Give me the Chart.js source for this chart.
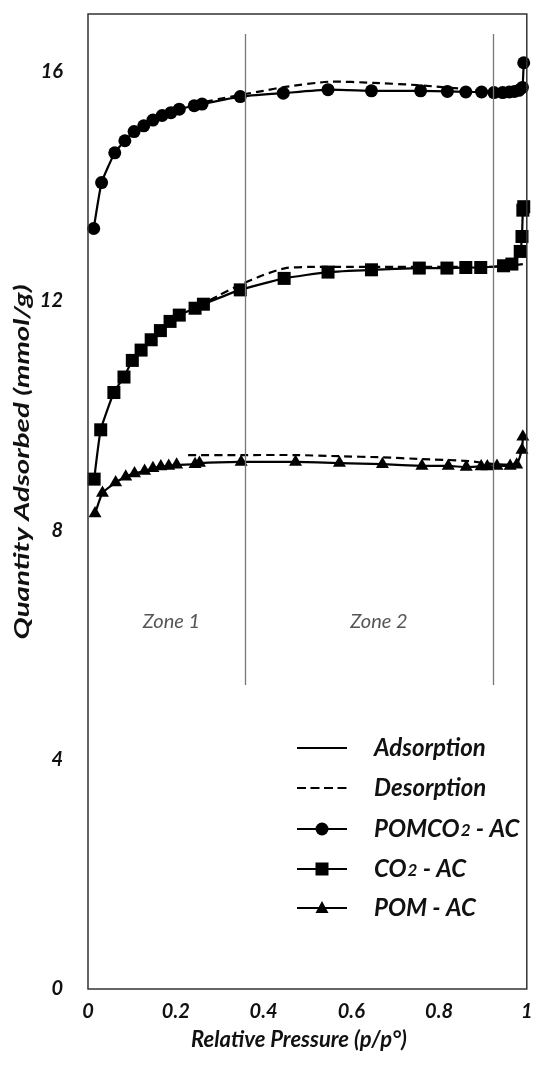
<!DOCTYPE html>
<html>
<head>
<meta charset="utf-8">
<script src="https://cdn.jsdelivr.net/npm/chart.js@4.4.1/dist/chart.umd.min.js"></script>
<style>
  html, body { margin: 0; padding: 0; background: #fff; }
  #wrap { width: 536px; height: 1066px; }
</style>
</head>
<body>
<div id="wrap"><canvas id="isotherm"></canvas></div>
<script>
// isotherm data: relative pressure (p/p°) and quantity adsorbed (mmol/g)
const pomco2AdsP = [0.013, 0.031, 0.061, 0.084, 0.105, 0.127, 0.148, 0.169, 0.189, 0.208, 0.242, 0.260, 0.347, 0.445, 0.547, 0.646, 0.758, 0.819, 0.861, 0.897, 0.925, 0.945, 0.960, 0.972, 0.982, 0.990, 0.993];
const pomco2AdsQ = [13.26, 14.06, 14.58, 14.79, 14.95, 15.05, 15.15, 15.23, 15.28, 15.34, 15.40, 15.43, 15.56, 15.62, 15.68, 15.66, 15.66, 15.65, 15.64, 15.64, 15.63, 15.63, 15.64, 15.65, 15.67, 15.72, 16.15];
const pomco2DesP = [0.990, 0.920, 0.880, 0.750, 0.650, 0.550, 0.450, 0.400, 0.347, 0.300, 0.255];
const pomco2DesQ = [15.74, 15.66, 15.68, 15.76, 15.80, 15.82, 15.73, 15.66, 15.59, 15.52, 15.45];

const co2AdsP = [0.014, 0.029, 0.059, 0.082, 0.101, 0.121, 0.144, 0.165, 0.187, 0.208, 0.244, 0.263, 0.347, 0.447, 0.547, 0.646, 0.755, 0.818, 0.861, 0.895, 0.947, 0.966, 0.985, 0.989, 0.991, 0.993];
const co2AdsQ = [8.89, 9.75, 10.40, 10.67, 10.96, 11.14, 11.32, 11.48, 11.64, 11.75, 11.87, 11.94, 12.19, 12.39, 12.50, 12.54, 12.57, 12.57, 12.58, 12.58, 12.61, 12.64, 12.86, 13.12, 13.58, 13.64];
const co2DesP = [0.991, 0.950, 0.900, 0.800, 0.700, 0.600, 0.500, 0.450, 0.400, 0.347, 0.300, 0.263];
const co2DesQ = [12.64, 12.60, 12.59, 12.59, 12.59, 12.59, 12.59, 12.57, 12.45, 12.28, 12.10, 11.95];

const pomAdsP = [0.016, 0.033, 0.063, 0.086, 0.106, 0.129, 0.148, 0.166, 0.184, 0.202, 0.244, 0.254, 0.349, 0.473, 0.573, 0.671, 0.761, 0.821, 0.862, 0.896, 0.910, 0.932, 0.962, 0.977, 0.989, 0.991];
const pomAdsQ = [8.29, 8.65, 8.83, 8.93, 8.99, 9.03, 9.08, 9.11, 9.12, 9.14, 9.15, 9.17, 9.19, 9.19, 9.17, 9.15, 9.12, 9.12, 9.10, 9.11, 9.11, 9.12, 9.12, 9.14, 9.40, 9.63];
const pomDesP = [0.990, 0.975, 0.930, 0.860, 0.760, 0.670, 0.570, 0.470, 0.350, 0.225];
const pomDesQ = [9.45, 9.16, 9.15, 9.21, 9.24, 9.27, 9.29, 9.31, 9.31, 9.31];

const seriesNames = ["POMCO2 - AC", "CO2 - AC", "POM - AC"];
const seriesMarkers = ["circle", "rect", "triangle"];
const lineNames = ["Adsorption", "Desorption"];

const yTicks = [0, 4, 8, 12, 16];
const xTicks = [0, 0.2, 0.4, 0.6, 0.8, 1];

// zone boundaries and labels
const zoneBounds = [0.358, 0.923];
const zoneNames = ["Zone 1", "Zone 2"];
const zoneLabelP = [0.19, 0.663];

const FONT = "Lato, 'Open Sans', sans-serif";
const INK = "#111";

function points(ps, qs) {
    return ps.map((p, i) => ({ x: p, y: qs[i] }));
}

function adsSet(label, ps, qs, marker, radius) {
    return {
        label: label,
        data: points(ps, qs),
        showLine: true,
        borderColor: "#000",
        backgroundColor: "#000",
        borderWidth: 2.2,
        pointStyle: marker,
        pointRadius: radius,
        pointBorderWidth: 0,
        tension: 0.15,
        clip: false
    };
}

function desSet(label, ps, qs) {
    return {
        label: label,
        data: points(ps, qs),
        showLine: true,
        borderColor: "#000",
        borderWidth: 2.2,
        borderDash: [8, 5],
        pointRadius: 0,
        tension: 0.2,
        clip: false
    };
}

function drawMarker(ctx, style, x, y) {
    ctx.beginPath();
    if (style === "circle") {
        ctx.arc(x, y, 6.5, 0, Math.PI * 2);
    } else if (style === "rect") {
        ctx.rect(x - 6.5, y - 6.5, 13, 13);
    } else {
        ctx.moveTo(x, y - 7);
        ctx.lineTo(x + 6.5, y + 5);
        ctx.lineTo(x - 6.5, y + 5);
        ctx.closePath();
    }
    ctx.fill();
}

// text with the "2" after CO set smaller
function drawName(ctx, text, x, y, size) {
    const parts = text.split(/(?<=CO)2/);
    ctx.font = "italic bold " + size + "px " + FONT;
    ctx.fillText(parts[0], x, y);
    let cx = x + ctx.measureText(parts[0]).width;
    if (parts.length > 1) {
        ctx.font = "italic bold " + Math.round(size * 0.72) + "px " + FONT;
        ctx.fillText("2", cx + 1, y + 2);
        cx += ctx.measureText("2").width + 1;
        ctx.font = "italic bold " + size + "px " + FONT;
        ctx.fillText(parts[1], cx, y);
    }
}

const decorations = {
    id: "decorations",
    afterDatasetsDraw(chart) {
        const { ctx, chartArea: a, scales: { x, y } } = chart;
        ctx.save();

        // frame
        ctx.strokeStyle = "#333";
        ctx.lineWidth = 1.5;
        ctx.strokeRect(a.left, a.top, a.right - a.left, a.bottom - a.top);

        // zone separators
        ctx.strokeStyle = "#777";
        ctx.lineWidth = 1.3;
        zoneBounds.forEach(b => {
            const px = Math.round(x.getPixelForValue(b)) + 0.5;
            ctx.beginPath();
            ctx.moveTo(px, y.getPixelForValue(16.65));
            ctx.lineTo(px, y.getPixelForValue(5.3));
            ctx.stroke();
        });
        ctx.fillStyle = "#555";
        ctx.font = "italic 20px " + FONT;
        ctx.textAlign = "center";
        ctx.textBaseline = "middle";
        zoneNames.forEach((z, i) => {
            ctx.fillText(z, x.getPixelForValue(zoneLabelP[i]), y.getPixelForValue(6.4));
        });

        // legend
        const lx0 = a.left + 209, lx1 = a.left + 259, tx = a.left + 286;
        const rows = [748, 788, 829, 869, 908];
        ctx.strokeStyle = "#000";
        ctx.fillStyle = "#000";
        ctx.lineWidth = 2.2;
        ctx.textAlign = "left";
        lineNames.forEach((n, i) => {
            ctx.setLineDash(i === 0 ? [] : [9, 4.5]);
            ctx.beginPath();
            ctx.moveTo(lx0, rows[i]);
            ctx.lineTo(lx1, rows[i]);
            ctx.stroke();
            ctx.fillStyle = INK;
            ctx.font = "italic bold 24px " + FONT;
            ctx.fillText(n, tx, rows[i]);
        });
        ctx.setLineDash([]);
        seriesNames.forEach((n, i) => {
            const r = rows[i + 2];
            ctx.fillStyle = "#000";
            ctx.beginPath();
            ctx.moveTo(lx0, r);
            ctx.lineTo(lx1, r);
            ctx.stroke();
            drawMarker(ctx, seriesMarkers[i], (lx0 + lx1) / 2, r);
            ctx.fillStyle = INK;
            drawName(ctx, n, tx, r, 24);
        });

        // axis titles
        ctx.fillStyle = INK;
        ctx.textAlign = "center";
        ctx.font = "italic bold 22px " + FONT;
        ctx.fillText("Relative Pressure (p/p°)", 299, 1040);

        const yTitle = "Quantity Adsorbed (mmol/g)";
        ctx.font = "italic bold 21px " + FONT;
        ctx.translate(22, 462);
        ctx.rotate(-Math.PI / 2);
        ctx.scale(355 / ctx.measureText(yTitle).width, 1);
        ctx.fillText(yTitle, 0, 0);

        ctx.restore();
    }
};

const tickFont = { family: FONT, size: 20, style: "italic", weight: "bold" };

const chart = new Chart(document.getElementById("isotherm"), {
    type: "scatter",
    data: {
        datasets: [
            adsSet(seriesNames[0], pomco2AdsP, pomco2AdsQ, "circle", 6.5),
            desSet(seriesNames[0] + " des", pomco2DesP, pomco2DesQ),
            adsSet(seriesNames[1], co2AdsP, co2AdsQ, "rect", 9.2),
            desSet(seriesNames[1] + " des", co2DesP, co2DesQ),
            adsSet(seriesNames[2], pomAdsP, pomAdsQ, "triangle", 7.5),
            desSet(seriesNames[2] + " des", pomDesP, pomDesQ)
        ]
    },
    options: {
        responsive: true,
        maintainAspectRatio: false,
        animation: false,
        layout: { padding: { top: 14, right: 7, left: 0, bottom: 0 } },
        plugins: {
            legend: { display: false },
            tooltip: { enabled: false }
        },
        scales: {
            x: {
                type: "linear",
                min: 0,
                max: 1,
                afterFit: s => {
                    s.height = 77;
                    s.paddingLeft = 0;
                    s.paddingRight = 0;
                },
                afterBuildTicks: s => { s.ticks = xTicks.map(v => ({ value: v })); },
                grid: { display: false, drawTicks: false },
                border: { display: false },
                ticks: {
                    padding: 11,
                    color: INK,
                    font: tickFont,
                    callback: v => String(v)
                }
            },
            y: {
                type: "linear",
                min: 0,
                max: 17,
                afterFit: s => {
                    s.width = 88;
                    s.paddingTop = 0;
                    s.paddingBottom = 0;
                },
                afterBuildTicks: s => { s.ticks = yTicks.map(v => ({ value: v })); },
                grid: { display: false, drawTicks: false },
                border: { display: false },
                ticks: {
                    padding: 25,
                    color: INK,
                    font: tickFont,
                    callback: v => String(v)
                }
            }
        }
    },
    plugins: [decorations]
});
</script>
</body>
</html>
